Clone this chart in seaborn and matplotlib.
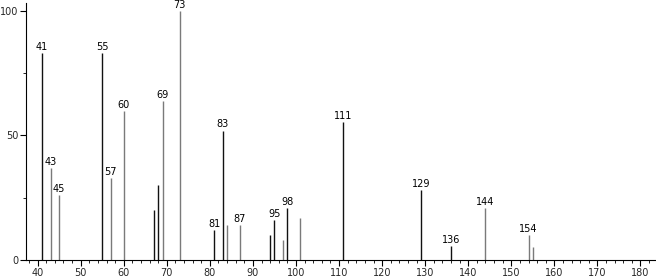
import matplotlib
matplotlib.use("Agg")
import matplotlib.pyplot as plt
import seaborn as sns
from matplotlib.ticker import MultipleLocator

mz = [41, 43, 45, 55, 57, 60, 67, 68, 69, 73, 81, 83, 84, 87, 94, 95, 97, 98, 101,
      111, 129, 136, 144, 154, 155]
intensity = [83, 37, 26, 83, 33, 60, 20, 30, 64, 100, 12, 52, 14, 14, 10, 16, 8, 21, 17,
             55.5, 28, 5.6, 21, 10, 5.2]
dark = [True, False, False, True, False, False, True, True, False, False, True, True, False,
        False, True, True, False, True, False, True, True, True, False, False, False]
labeled = [41, 43, 45, 55, 57, 60, 69, 73, 81, 83, 87, 95, 98, 111, 129, 136, 144, 154]

sns.set_style("ticks")
plt.rcParams['font.family'] = ['DejaVu Sans']

fig = plt.figure(figsize=(6.56, 2.77), dpi=100)
ax = fig.add_axes([26/656, 17/277, 1 - 26/656, (260-3)/277])

colors = ["#111111" if d else "#7a7a7a" for d in dark]
ax.vlines(mz, 0, intensity, colors=colors, linewidth=1.0)
for m, v in zip(mz, intensity):
    if m in labeled:
        ax.annotate(str(m), (m, v), xytext=(0, 2.2), textcoords="offset points",
                    ha="center", va="baseline", fontsize=7, color="black",
                    annotation_clip=False)

ax.set_xlim(37.3, 183.6)
ax.set_ylim(0, 103.2)
ax.xaxis.set_major_locator(MultipleLocator(10))
ax.xaxis.set_minor_locator(MultipleLocator(2))
ax.yaxis.set_major_locator(MultipleLocator(50))
ax.yaxis.set_minor_locator(MultipleLocator(25))
ax.tick_params(axis="both", which="major", length=4, width=0.8, labelsize=7, pad=1.5, color="black")
ax.tick_params(axis="both", which="minor", length=2, width=0.6, color="black")
sns.despine(ax=ax)
for s in ["left", "bottom"]:
    ax.spines[s].set_color("black")
    ax.spines[s].set_linewidth(0.8)
ax.set_xlabel("")
ax.set_ylabel("")
fig.savefig("out.png", dpi=100)
